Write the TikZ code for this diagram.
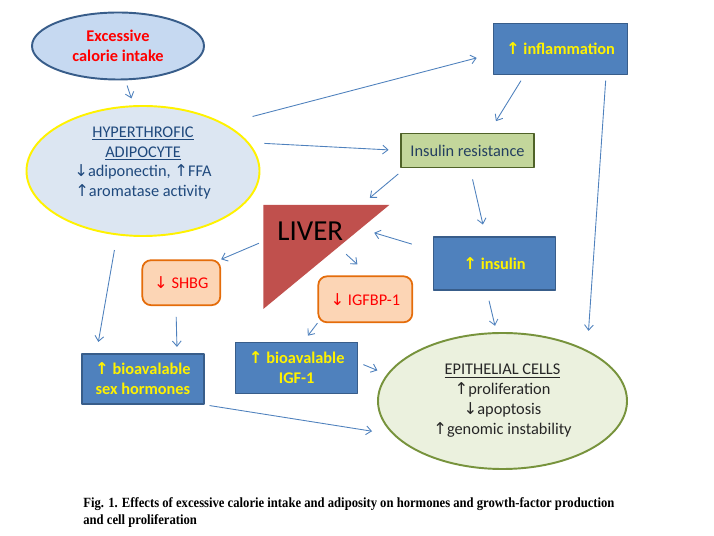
\documentclass[tikz,border=0pt]{standalone}
\usepackage{fontspec}
\setmainfont{Carlito}
\newfontfamily\arrowfont{DejaVu Sans}
\newfontfamily\capfont{Liberation Serif}
\usetikzlibrary{arrows.meta,shapes.geometric}
\definecolor{arrowblue}{HTML}{4F81BD}
\definecolor{boxblue}{HTML}{4F81BD}
\definecolor{boxedge}{HTML}{385D8A}
\definecolor{caloriefill}{HTML}{C6D9F1}
\definecolor{adipofill}{HTML}{DCE6F2}
\definecolor{adipotext}{HTML}{1F497D}
\definecolor{irfill}{HTML}{C3D69B}
\definecolor{iredge}{HTML}{4F6228}
\definecolor{irtext}{HTML}{243F60}
\definecolor{liverred}{HTML}{C0504D}
\definecolor{orangefill}{HTML}{FCD5B5}
\definecolor{orangeedge}{HTML}{E46C0A}
\definecolor{epifill}{HTML}{EBF1DE}
\definecolor{epiedge}{HTML}{77933C}
\definecolor{epitext}{HTML}{262626}
\newcommand{\uarr}{{\arrowfont\symbol{"2191}}}
\newcommand{\darr}{{\arrowfont\symbol{"2193}}}

\begin{document}
\begin{tikzpicture}[x=0.02cm, y=-0.02cm, line join=round,
    txt/.style={font=\fontsize{9.3}{11.3}\selectfont},
    arr/.style={-{Straight Barb[length=3pt,width=5pt]}, draw=arrowblue, line width=0.5pt},
    bluebox/.style={rectangle, draw=boxedge, fill=boxblue, line width=0.9pt, text=yellow,
      font=\fontsize{9.3}{11.3}\selectfont\bfseries, align=center, inner sep=0pt},
    orangebox/.style={rectangle, rounded corners=5pt, draw=orangeedge, fill=orangefill,
      line width=1pt, text=red, font=\fontsize{9.3}{11.3}\selectfont, inner sep=0pt}]
      \def\px{0.02cm}
      \useasboundingbox (0,0) rectangle (714,536);
      % top ellipses
      \node[ellipse, draw=boxedge, fill=caloriefill, line width=1.1pt, inner sep=0pt,
        minimum width=172*\px, minimum height=67*\px, text=red, align=center,
        font=\fontsize{9.3}{11.3}\selectfont\bfseries] (calorie) at (118,46) {Excessive\\calorie intake};
      \node[ellipse, draw=yellow, fill=adipofill, line width=1.1pt, inner sep=0pt,
        minimum width=233*\px, minimum height=130*\px] (adipo) at (143,171) {};
      \node[txt, text=adipotext, align=center, inner sep=0pt] (adipotxt) at (143,163)
        {\underline{HYPERTHROFIC}\\\underline{ADIPOCYTE}\\\darr adiponectin, \uarr FFA\\\uarr aromatase activity};
      % boxes
      \node[bluebox, minimum width=134*\px, minimum height=51*\px] (infl) at (560.5,49) {{\arrowfont\bfseries\symbol{"2191}} inflammation};
      \node[rectangle, draw=iredge, fill=irfill, line width=1.1pt, inner sep=0pt, txt, text=irtext,
        minimum width=133*\px, minimum height=34*\px] (ir) at (467.5,150.5) {Insulin resistance};
      \node[bluebox, minimum width=122*\px, minimum height=53*\px] (insulin) at (494.5,263.5) {{\arrowfont\bfseries\symbol{"2191}} insulin};
      % liver
      \coordinate (livL) at (263.3,205); \coordinate (livR) at (389.3,205);
      \coordinate (livB) at (263.3,309);
      \fill[liverred] (livL) -- (livR) -- (livB) -- cycle;
      \path (livL) -- (livR) coordinate[pos=0.777] (livT);
      \path (livR) -- (livB) coordinate[pos=0.228] (livH1) coordinate[pos=0.405] (livH2);
      \path (livL) -- (livB) coordinate[pos=0.35] (livW);
      \node[anchor=base west, inner sep=0pt, font=\fontsize{16.5}{20}\selectfont] (liver) at (277,240.7) {LIVER};
      \node[orangebox, minimum width=78*\px, minimum height=45*\px] (shbg) at (181.3,282.7) {\darr\ SHBG};
      \node[orangebox, minimum width=94*\px, minimum height=46*\px] (igfbp) at (365.3,299.3) {\darr\ IGFBP-1};
      \node[bluebox, minimum width=122*\px, minimum height=50*\px] (sexh) at (142.9,379)
        {{\arrowfont\bfseries\symbol{"2191}} bioavalable\\sex hormones};
      \node[bluebox, minimum width=122*\px, minimum height=51*\px] (igf) at (296.7,368)
        {{\arrowfont\bfseries\symbol{"2191}} bioavalable\\IGF-1};
      \node[ellipse, draw=epiedge, fill=epifill, line width=1.1pt, inner sep=0pt,
        minimum width=249*\px, minimum height=136*\px, font=\fontsize{9.3}{11.4}\selectfont,
        text=epitext, align=center] (epi) at (502.5,401)
        {\underline{EPITHELIAL CELLS}\\\uarr proliferation\\\darr apoptosis\\\uarr genomic instability};
      % arrows
      \draw[arr, shorten <=3.1pt, shorten >=4.1pt] (calorie.282) -- (adipo.98);
      \draw[arr, shorten <=16.3pt, shorten >=9.4pt] (adipo.30) -- (infl.184);
      \draw[arr, shorten <=8.7pt, shorten >=6.5pt] (adipo.15) -- (ir.west);
      \draw[arr, shorten <=3.6pt, shorten >=7.6pt] (infl.216) -- (ir.40);
      \draw[arr, shorten <=3pt, shorten >=11pt] (infl.330) -- (epi.31);
      \draw[arr, shorten <=4.9pt, shorten >=6.4pt] (ir.196) -- (livT);
      \draw[arr, shorten <=6.4pt, shorten >=6.8pt] (ir.278) -- (insulin.108);
      \draw[arr, shorten <=12.4pt, shorten >=8.1pt] (insulin.168) -- (livH1);
      \draw[arr, shorten <=5.8pt, shorten >=3.7pt] (insulin.254) -- (epi.95);
      \draw[arr, shorten <=2.7pt] (livW) -- (shbg.north east);
      \draw[arr, shorten <=6pt, shorten >=9.3pt] (livH2) -- (igfbp.80);
      \draw[arr, shorten <=6.1pt, shorten >=3.6pt] (shbg.257) -- (sexh.37);
      \draw[arr, shorten <=8.5pt, shorten >=6.5pt] (adipo.248) -- (sexh.151);
      \draw[arr, shorten >=4.3pt] (igfbp.south west) -- (igf.76);
      \draw[arr, shorten <=3pt, shorten >=5.8pt] (igf.5) -- (epi.167);
      \draw[arr, shorten <=2.8pt, shorten >=12pt] (sexh.south east) -- (epi.197);
      % caption
      \node[anchor=north west, inner sep=0pt, align=left,
        font=\fontsize{8}{9.6}\selectfont\capfont\bfseries] (caption) at (83,497)
        {\scalebox{0.9}[1]{Fig. 1. Effects of excessive calorie intake and adiposity on hormones and growth-factor production}\\
         \scalebox{0.9}[1]{and cell proliferation}};
    \end{tikzpicture}
\end{document}
